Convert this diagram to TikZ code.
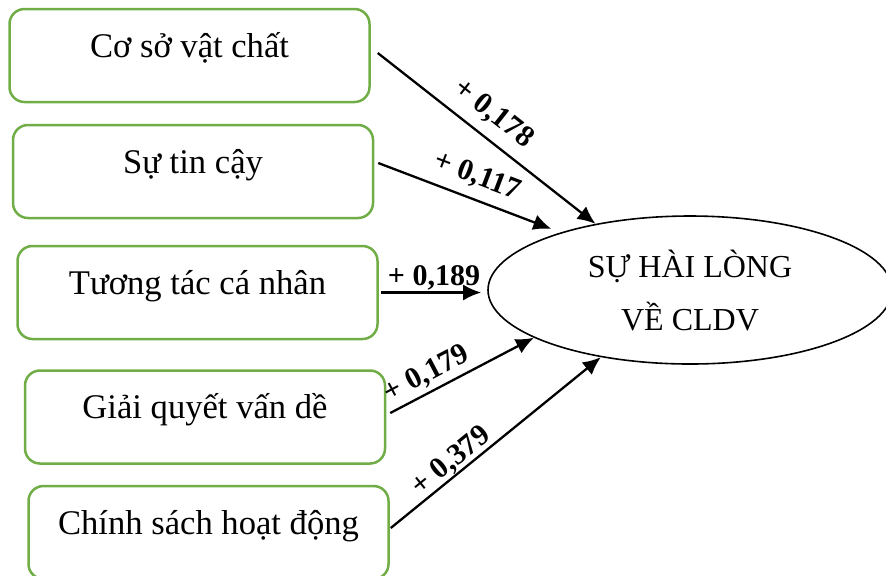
\documentclass[tikz,border=0pt]{standalone}
\usepackage{fontspec}
\setmainfont{Liberation Serif}
\usetikzlibrary{arrows.meta,shapes}
\definecolor{boxgreen}{RGB}{112,173,71}

\begin{document}
\begin{tikzpicture}[x=0.5pt,y=-0.5pt,
	factor/.style={draw=boxgreen,line width=1.25pt,rounded corners=7.5pt,minimum width=180pt,inner xsep=0pt,inner ysep=0pt,
		text height=24pt,text depth=22.5pt,font=\fontsize{17.3}{20}\selectfont},
	result/.style={draw,ellipse,line width=0.8pt,minimum width=202pt,minimum height=74pt,inner sep=0pt,align=center,
		font=\fontsize{16}{26.5}\selectfont},
	edge/.style={-{Latex[length=9pt,width=8pt]},line width=1.15pt},
	coef/.style={font=\bfseries\fontsize{15}{16}\selectfont,inner sep=0pt,sloped}]
					\useasboundingbox (0,0) rectangle (886,575);
					% Draw the five factors
					\foreach \pos/\name/\txt in {{(189.5,55.5)/c1/Cơ sở vật chất}, {(193,171.5)/c2/Sự tin cậy},
							{(197.5,292.5)/c3/Tương tác cá nhân}, {(205,417)/c4/Giải quyết vấn dề},
							{(208.5,532.5)/c5/Chính sách hoạt động}}
						\node[factor] (\name) at \pos {\txt};
					% The outcome
					\node[result] (hl) at (690,290) {SỰ HÀI LÒNG\\VỀ CLDV};
					% Then the weighted arrows
					\draw[edge] ([shift={(7,-2.5)}]c1.east) -- (hl.145) node[coef,above=5pt,pos=0.465] (k1) {+ 0,178};
					\draw[edge,shorten >=5pt] ([shift={(4,-8.5)}]c2.east) -- (hl.156) node[coef,above=4.5pt,pos=0.5] (k2) {+ 0,117};
					\draw[edge,shorten >=3pt] ([xshift=1pt]c3.east) -- (c3.east -| hl.west) node[coef,above=0.5pt,pos=0.5] (k3) {+ 0,189};
					\draw[edge] ([shift={(4,-4)}]c4.east) -- (hl.197) node[coef,above=2pt,pos=0.31] (k4) {+ 0,179};
					\draw[edge] ([shift={(1,-4.5)}]c5.east) -- (hl.217) node[coef,above=0pt,pos=0.33] (k5) {+ 0,379};
				\end{tikzpicture}
\end{document}
